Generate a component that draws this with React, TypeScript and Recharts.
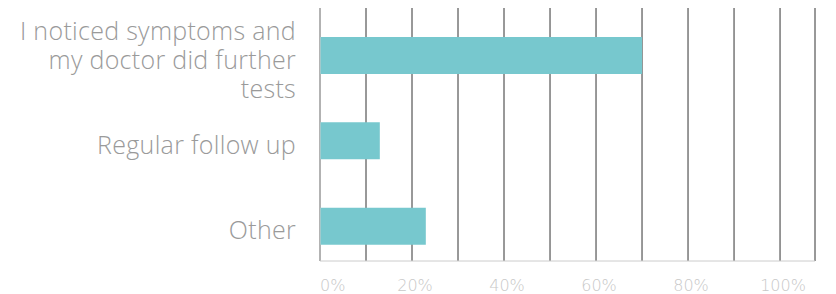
import React from "react";
import { BarChart, Bar, XAxis, YAxis, CartesianGrid } from "recharts";

const categories = [
  "I noticed symptoms and my doctor did further tests",
  "Regular follow up",
  "Other",
];
const values = [70, 13, 23];
const xTickLabels = [0, 20, 40, 60, 80, 100];
const gridValues = [0, 10, 20, 30, 40, 50, 60, 70, 80, 90, 100];
const xMax = 107.6;

const data = categories.map((name, i) => ({ name, value: values[i] }));

function wrap(text: string, maxChars: number): string[] {
  const words = text.split(" ");
  const lines: string[] = [];
  let cur = "";
  for (const w of words) {
    const next = cur ? cur + " " + w : w;
    if (next.length > maxChars && cur) {
      lines.push(cur);
      cur = w;
    } else {
      cur = next;
    }
  }
  if (cur) lines.push(cur);
  return lines;
}

const YTick = (props: any) => {
  const { x, y, payload } = props;
  const lines = wrap(String(payload.value), 22);
  const lh = 29;
  const first = 9 + 4 - ((lines.length - 1) * lh) / 2;
  return (
    <text
      x={x}
      y={y}
      textAnchor="end"
      fill="#9a9a9a"
      fontSize={25}
      letterSpacing={0.3}
      fontFamily="'Open Sans', Lato, sans-serif"
      fontWeight={300}
    >
      {lines.map((l, i) => (
        <tspan key={i} x={x} y={y + first + i * lh}>
          {l}
        </tspan>
      ))}
    </text>
  );
};

const XTick = (props: any) => {
  const { x, y, payload } = props;
  const v = payload.value;
  if (!xTickLabels.includes(v)) return <g />;
  const first = v === xTickLabels[0];
  return (
    <text
      x={first ? x : x + 3}
      y={y + 10}
      textAnchor={first ? "start" : "middle"}
      fill="#c8c8c8"
      fontSize={16}
      fontFamily="'DejaVu Sans', sans-serif"
      fontWeight={200}
    >
      {`${v}%`}
    </text>
  );
};

export default function App() {
  return (
    <div style={{ position: "absolute", left: 0, top: 0 }}>
      <BarChart
        width={836}
        height={294}
        data={data}
        layout="vertical"
        margin={{ top: 8, right: 21, bottom: 0, left: 0 }}
      >
        <CartesianGrid horizontal={false} stroke="#333333" />
        <XAxis
          type="number"
          domain={[0, xMax]}
          ticks={gridValues}
          height={33}
          axisLine={{ stroke: "#cccccc" }}
          tickLine={false}
          tickSize={0}
          tickMargin={20}
          tick={<XTick />}
          interval={0}
        />
        <YAxis
          type="category"
          dataKey="name"
          width={320}
          axisLine={{ stroke: "#cccccc" }}
          tickLine={false}
          tickSize={0}
          tickMargin={24}
          padding={{ top: 5, bottom: -8 }}
          tick={<YTick />}
          interval={0}
        />
        <Bar dataKey="value" fill="#77c8ce" barSize={37} isAnimationActive={false} />
      </BarChart>
    </div>
  );
}
